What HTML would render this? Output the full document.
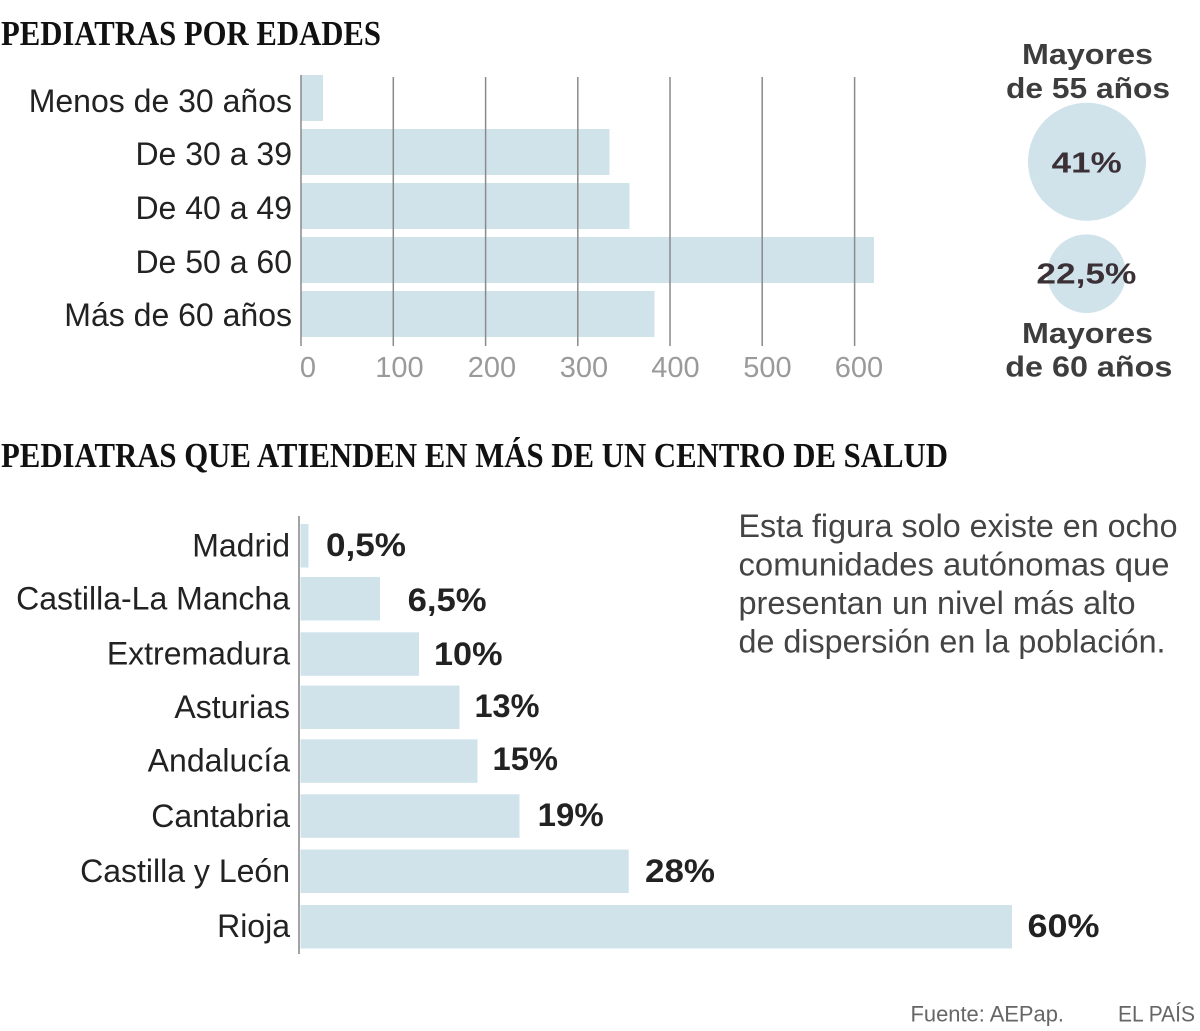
<!DOCTYPE html>
<html>
<head>
<meta charset="utf-8">
<style>
  html, body { margin: 0; padding: 0; background: #fff; }
  svg { display: block; }
  .lab { font-family: "Liberation Sans", sans-serif; font-size: 32px; fill: #222; }
  .tick { font-family: "Liberation Sans", sans-serif; font-size: 29px; fill: #9a9a9a; }
  .val { font-family: "Liberation Sans", sans-serif; font-size: 32px; font-weight: bold; fill: #222; }
  .ttl { font-family: "Liberation Serif", serif; font-size: 35px; font-weight: bold; fill: #111; }
  .circ { font-family: "Liberation Sans", sans-serif; font-size: 29px; font-weight: bold; fill: #3d3d3d; }
  .pct { font-family: "Liberation Sans", sans-serif; font-size: 29px; font-weight: bold; fill: #3a3036; }
  .note { font-family: "Liberation Sans", sans-serif; font-size: 32px; fill: #444; }
  .src { font-family: "Liberation Sans", sans-serif; font-size: 22px; fill: #666; }
</style>
</head>
<body>
<svg width="1200" height="1031" viewBox="0 0 1200 1031" xmlns="http://www.w3.org/2000/svg">
  <rect width="1200" height="1031" fill="#fff"/>

  <!-- Title 1 -->
  <text class="ttl" x="1" y="45" textLength="380" lengthAdjust="spacingAndGlyphs">PEDIATRAS POR EDADES</text>

  <!-- Top bars -->
  <g fill="#d0e3eb">
    <rect x="301" y="75" width="22" height="46"/>
    <rect x="301" y="129" width="308.5" height="46"/>
    <rect x="301" y="183" width="328.5" height="46"/>
    <rect x="301" y="237" width="573" height="46"/>
    <rect x="301" y="291" width="353.5" height="46"/>
  </g>

  <!-- Gridlines -->
  <g stroke="#8a8a8a" stroke-width="1.5">
    <line x1="301" y1="75" x2="301" y2="346"/>
    <line x1="393.3" y1="77" x2="393.3" y2="346"/>
    <line x1="485.6" y1="77" x2="485.6" y2="346"/>
    <line x1="577.8" y1="77" x2="577.8" y2="346"/>
    <line x1="670" y1="77" x2="670" y2="346"/>
    <line x1="762.2" y1="77" x2="762.2" y2="346"/>
    <line x1="854.6" y1="77" x2="854.6" y2="346"/>
  </g>

  <!-- Tick labels -->
  <g text-anchor="middle">
    <text class="tick" x="308" y="377">0</text>
    <text class="tick" x="399.5" y="377">100</text>
    <text class="tick" x="492" y="377">200</text>
    <text class="tick" x="584" y="377">300</text>
    <text class="tick" x="675.5" y="377">400</text>
    <text class="tick" x="767.5" y="377">500</text>
    <text class="tick" x="859" y="377">600</text>
  </g>

  <!-- Top labels -->
  <g text-anchor="end">
    <text class="lab" x="292" y="112">Menos de 30 años</text>
    <text class="lab" x="292" y="165">De 30 a 39</text>
    <text class="lab" x="292" y="219">De 40 a 49</text>
    <text class="lab" x="292" y="273">De 50 a 60</text>
    <text class="lab" x="292" y="326">Más de 60 años</text>
  </g>

  <!-- Circles -->
  <circle cx="1087" cy="161.7" r="59" fill="#d0e3eb"/>
  <circle cx="1086.5" cy="273.7" r="39.3" fill="#d0e3eb"/>
  <g text-anchor="middle">
    <text class="circ" x="1087.5" y="64" textLength="131" lengthAdjust="spacingAndGlyphs">Mayores</text>
    <text class="circ" x="1088" y="98" textLength="164" lengthAdjust="spacingAndGlyphs">de 55 años</text>
    <text class="pct" x="1086.7" y="172.5" textLength="70" lengthAdjust="spacingAndGlyphs">41%</text>
    <text class="pct" x="1086.4" y="283.3" textLength="100" lengthAdjust="spacingAndGlyphs">22,5%</text>
    <text class="circ" x="1087.5" y="343" textLength="131" lengthAdjust="spacingAndGlyphs">Mayores</text>
    <text class="circ" x="1088.8" y="376.5" textLength="167" lengthAdjust="spacingAndGlyphs">de 60 años</text>
  </g>

  <!-- Title 2 -->
  <text class="ttl" x="1" y="467" textLength="947" lengthAdjust="spacingAndGlyphs">PEDIATRAS QUE ATIENDEN EN MÁS DE UN CENTRO DE SALUD</text>

  <!-- Bottom bars -->
  <g fill="#d0e3eb">
    <rect x="300.5" y="524" width="8" height="43.5"/>
    <rect x="300.5" y="577" width="79.5" height="43.5"/>
    <rect x="300.5" y="632.3" width="118.5" height="43.5"/>
    <rect x="300.5" y="685.5" width="159" height="43.5"/>
    <rect x="300.5" y="739.3" width="177" height="43.5"/>
    <rect x="300.5" y="794.3" width="219" height="43.5"/>
    <rect x="300.5" y="849.5" width="328.2" height="43.5"/>
    <rect x="300.5" y="905" width="711.5" height="43.5"/>
  </g>
  <line x1="299" y1="516" x2="299" y2="954" stroke="#999" stroke-width="1.8"/>

  <!-- Bottom labels -->
  <g text-anchor="end">
    <text class="lab" x="290" y="556.5">Madrid</text>
    <text class="lab" x="290" y="609.5">Castilla-La Mancha</text>
    <text class="lab" x="290" y="664.5">Extremadura</text>
    <text class="lab" x="290" y="718">Asturias</text>
    <text class="lab" x="290" y="771.5">Andalucía</text>
    <text class="lab" x="290" y="827">Cantabria</text>
    <text class="lab" x="290" y="882">Castilla y León</text>
    <text class="lab" x="290" y="937">Rioja</text>
  </g>

  <!-- Values -->
  <text class="val" x="326" y="556" textLength="80" lengthAdjust="spacingAndGlyphs">0,5%</text>
  <text class="val" x="407.6" y="611" textLength="79" lengthAdjust="spacingAndGlyphs">6,5%</text>
  <text class="val" x="434" y="665" textLength="68.5" lengthAdjust="spacingAndGlyphs">10%</text>
  <text class="val" x="474.5" y="717" textLength="65" lengthAdjust="spacingAndGlyphs">13%</text>
  <text class="val" x="492.5" y="770" textLength="65.5" lengthAdjust="spacingAndGlyphs">15%</text>
  <text class="val" x="537.7" y="826" textLength="66" lengthAdjust="spacingAndGlyphs">19%</text>
  <text class="val" x="645" y="882" textLength="70" lengthAdjust="spacingAndGlyphs">28%</text>
  <text class="val" x="1027.5" y="937" textLength="72" lengthAdjust="spacingAndGlyphs">60%</text>

  <!-- Note -->
  <text class="note" x="738.5" y="537" textLength="439" lengthAdjust="spacingAndGlyphs">Esta figura solo existe en ocho</text>
  <text class="note" x="738.5" y="575.5" textLength="431" lengthAdjust="spacingAndGlyphs">comunidades autónomas que</text>
  <text class="note" x="738.5" y="614" textLength="397" lengthAdjust="spacingAndGlyphs">presentan un nivel más alto</text>
  <text class="note" x="738.5" y="652.5" textLength="427" lengthAdjust="spacingAndGlyphs">de dispersión en la población.</text>

  <!-- Footer -->
  <text class="src" x="910.5" y="1021.5" textLength="153.5" lengthAdjust="spacingAndGlyphs">Fuente: AEPap.</text>
  <text class="src" x="1118" y="1021.5" textLength="77" lengthAdjust="spacingAndGlyphs">EL PAÍS</text>
</svg>
</body>
</html>
